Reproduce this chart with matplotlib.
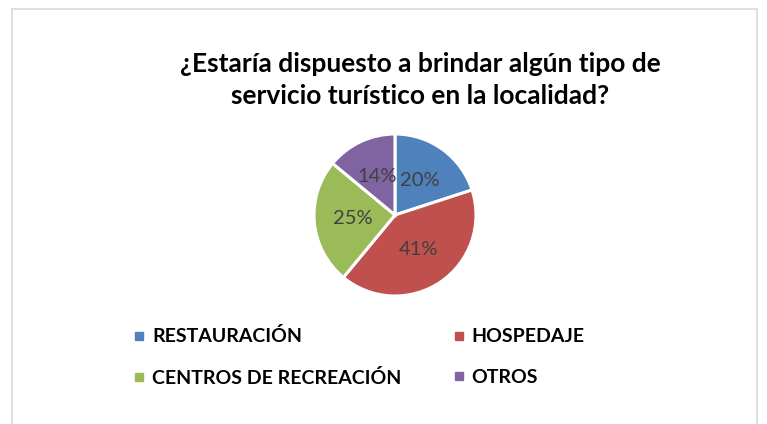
import matplotlib
matplotlib.use("Agg")
import matplotlib.pyplot as plt
from matplotlib.patches import Rectangle
from matplotlib.lines import Line2D

categories = ["RESTAURACIÓN", "HOSPEDAJE", "CENTROS DE RECREACIÓN", "OTROS"]
values = [20, 41, 25, 14]
colors = ["#4F81BD", "#C0504D", "#9BBB59", "#8064A2"]
title = "¿Estaría dispuesto a brindar algún tipo de\nservicio turístico en la localidad?"

W, H = 767, 424
fig = plt.figure(figsize=(W / 100, H / 100), dpi=100)
fig.patch.set_facecolor("white")

# chart frame
fig.patches.append(Rectangle((12 / W, -0.05), (757 - 12) / W, 1.05 - 9 / H,
                             transform=fig.transFigure, fill=False,
                             edgecolor="#D9D9D9", linewidth=1.2))

cx, cy, r = 395, 215, 81
ax = fig.add_axes([(cx - r) / W, (H - cy - r) / H, 2 * r / W, 2 * r / H])
wedges, texts, autotexts = ax.pie(
    values, colors=colors, startangle=90, counterclock=False,
    autopct=lambda p: f"{p:.0f}%", pctdistance=0.52,
    wedgeprops=dict(edgecolor="white", linewidth=2.2),
    textprops=dict(fontsize=14.5, color="#404040", family="Lato"))
ax.set_aspect("equal")
ax.set_xlim(-1.0, 1.0)
ax.set_ylim(-1.0, 1.0)

fig.text(420 / W, 1 - 80 / H, title, ha="center", va="center",
         fontsize=19, fontweight="bold", family="Lato", color="black",
         linespacing=1.45)

# legend filled row by row: reorder for matplotlib's column-first filling
order = [0, 2, 1, 3]
handles = [Line2D([0], [0], marker="s", linestyle="none", markersize=6,
                  markerfacecolor=colors[i], markeredgecolor=colors[i]) for i in order]
labels = [categories[i] for i in order]
leg = fig.legend(handles, labels, ncol=2, loc="upper left",
                 bbox_to_anchor=(116 / W, 1 - 310 / H), frameon=False,
                 prop=dict(family="Lato", weight="bold", size=14),
                 handlelength=0.6, handletextpad=0.35, columnspacing=2.65,
                 labelspacing=1.2)

fig.savefig("out.png", dpi=100, facecolor="white")
